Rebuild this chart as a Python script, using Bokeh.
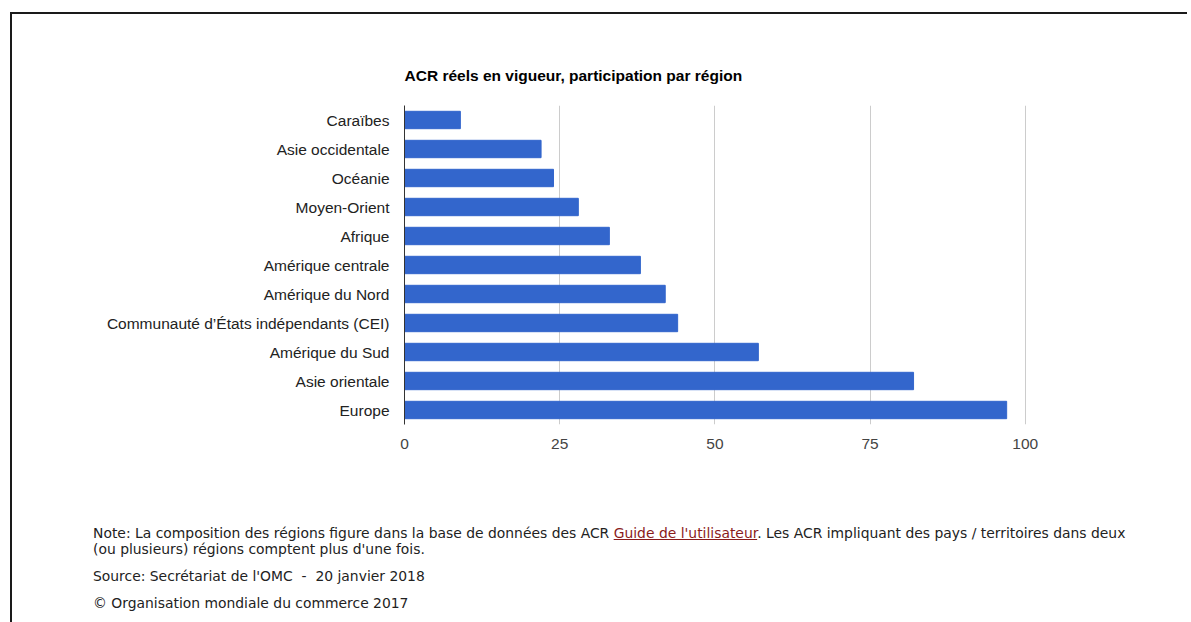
from bokeh.plotting import figure
from bokeh.layouts import column
from bokeh.models import FactorRange, Range1d, FixedTicker, ColumnDataSource, Div
from bokeh.embed import file_html
from bokeh.resources import INLINE

regions = ["Caraïbes", "Asie occidentale", "Océanie", "Moyen-Orient", "Afrique",
           "Amérique centrale", "Amérique du Nord", "Communauté d’États indépendants (CEI)",
           "Amérique du Sud", "Asie orientale", "Europe"]
counts = [9, 22, 24, 28, 33, 38, 42, 44, 57, 82, 97]
x_ticks = [0, 25, 50, 75, 100]
title_text = "ACR réels en vigueur, participation par région"
note_part1 = "Note: La composition des régions figure dans la base de données des ACR "
note_link = "Guide de l'utilisateur"
note_part2 = ". Les ACR impliquant des pays / territoires dans deux"
note_line2 = "(ou plusieurs) régions comptent plus d'une fois."
source_text = "Source: Secrétariat de l'OMC &nbsp;-&nbsp; 20 janvier 2018"
copyright_text = "© Organisation mondiale du commerce 2017"

X0, Y0 = 12, 14          # content origin on page (after border)
FL = 404 - X0            # frame left inside figure
FT = 105 - Y0            # frame top inside figure
FW, FH = 627, 319
W = 1175
FIG_BOTTOM = 520
H = FIG_BOTTOM - Y0

source = ColumnDataSource(dict(region=regions, count=counts))

p = figure(y_range=FactorRange(factors=list(reversed(regions))), x_range=Range1d(0, 101),
           frame_width=FW, frame_height=FH, min_border_left=FL, min_border_top=FT,
           min_border_right=W - FL - FW, min_border_bottom=H - FT - FH,
           toolbar_location=None, output_backend="svg", title=title_text)
p.outline_line_color = None
p.background_fill_color = "white"
p.border_fill_color = "white"

p.title.align = "left"
p.title.text_font = "Liberation Sans"
p.title.text_font_style = "bold"
p.title.text_font_size = "15.5px"
p.title.text_color = "#000000"
p.title.standoff = 44

p.hbar(y="region", right="count", height=0.6, left=0, source=source,
       fill_color="#3366cc", line_color="#3366cc")

p.xaxis.ticker = FixedTicker(ticks=x_ticks)
p.xaxis.axis_line_color = None
p.xaxis.major_tick_line_color = None
p.xaxis.minor_tick_line_color = None
p.xaxis.major_label_text_font = "Liberation Sans"
p.xaxis.major_label_text_font_size = "15.5px"
p.xaxis.major_label_text_color = "#444444"
p.xaxis.major_label_standoff = 8

p.yaxis.axis_line_color = "#333333"
p.yaxis.major_tick_line_color = None
p.yaxis.minor_tick_line_color = None
p.yaxis.major_label_text_font = "Liberation Sans"
p.yaxis.major_label_text_font_size = "15.5px"
p.yaxis.major_label_text_color = "#222222"
p.yaxis.major_label_standoff = 9

p.xgrid.grid_line_color = "#cccccc"
p.ygrid.grid_line_color = None

foot_html = (
    '<div style="font-family:\'DejaVu Sans\';font-size:13.9px;color:#222222;'
    'line-height:16px;white-space:nowrap;padding-left:%dpx;padding-top:5px">'
    '<div>%s<a style="color:#8a1b1b;text-decoration:underline">%s</a>%s</div>'
    '<div>%s</div>'
    '<div style="margin-top:11px">%s</div>'
    '<div style="margin-top:11px">%s</div>'
    '</div>'
) % (93 - X0, note_part1, note_link, note_part2, note_line2, source_text, copyright_text)

foot = Div(text=foot_html, width=W, height=622 - FIG_BOTTOM + 4, margin=0)

layout = column(p, foot, margin=0,
                styles={"margin-left": "10px", "margin-top": "12px",
                        "border-left": "2px solid #1a1a1a", "border-top": "2px solid #1a1a1a"})

open("out.html", "w").write(file_html(layout, INLINE))
